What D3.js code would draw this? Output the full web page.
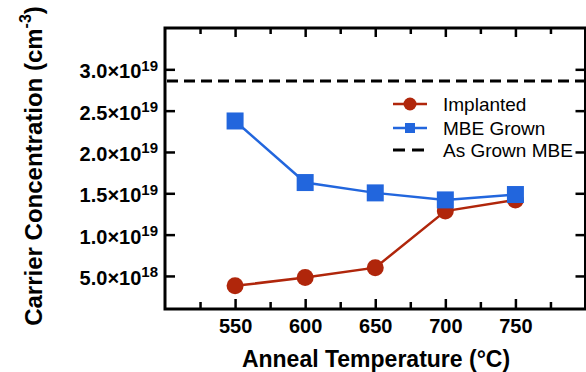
<!DOCTYPE html>
<html>
<head>
<meta charset="utf-8">
<script src="https://cdn.jsdelivr.net/npm/d3@7"></script>
<style>
    body { margin: 0; background: #fff; }
    text { font-family: "Liberation Sans", Arial, Helvetica, sans-serif; }
</style>
</head>
<body>
<div id="chart"></div>
<script>
var temps = [550, 600, 650, 700, 750];
var implanted = [3.8e18, 4.8e18, 6.0e18, 12.85e18, 14.2e18];
var mbeGrown = [23.75e18, 16.3e18, 15.05e18, 14.2e18, 14.85e18];
var asGrownMBE = 2.86e19;

var xMajorTicks = [550, 600, 650, 700, 750];
var xMinorTicks = [525, 575, 625, 675, 725, 775];
var yTicks = [5e18, 1e19, 1.5e19, 2e19, 2.5e19, 3e19];
var yTickMantissa = ["5.0", "1.0", "1.5", "2.0", "2.5", "3.0"];
var yTickExponent = ["18", "19", "19", "19", "19", "19"];
var legendLabels = ["Implanted", "MBE Grown", "As Grown MBE"];

var red = "#b0260b",
    blue = "#2266dd";

var svg = d3.select("#chart")
    .append("svg")
    .attr("width", 586)
    .attr("height", 372);

// note: "top" is taken by window.top, so use plot* names
var plotLeft = 165, plotRight = 585.5, plotTop = 28, plotBottom = 309;

var x = d3.scaleLinear()
    .domain([500, 800])
    .range([plotLeft, plotRight]);

var y = d3.scaleLinear()
    .domain([1e18, 3.5e19])
    .range([plotBottom, plotTop]);

function styleAxis(g) {
    g.select(".domain").remove();
    g.selectAll(".tick line")
        .attr("stroke", "#000")
        .attr("stroke-width", 2.5);
}

////////// axes //////////

svg.append("g")
    .attr("transform", "translate(0," + plotBottom + ")")
    .call(d3.axisBottom(x).tickValues(xMajorTicks).tickSize(-10).tickPadding(10))
    .call(styleAxis)
    .selectAll("text")
    .attr("font-size", 20)
    .attr("font-weight", "bold")
    .attr("fill", "#000");

svg.append("g")
    .attr("transform", "translate(0," + plotBottom + ")")
    .call(d3.axisBottom(x).tickValues(xMinorTicks).tickSize(-7).tickFormat(""))
    .call(styleAxis);

svg.append("g")
    .attr("transform", "translate(0," + plotTop + ")")
    .call(d3.axisTop(x).tickValues(xMajorTicks).tickSize(-9).tickFormat(""))
    .call(styleAxis);

svg.append("g")
    .attr("transform", "translate(0," + plotTop + ")")
    .call(d3.axisTop(x).tickValues(xMinorTicks).tickSize(-6).tickFormat(""))
    .call(styleAxis);

var yAxis = svg.append("g")
    .attr("transform", "translate(" + plotLeft + ",0)")
    .call(d3.axisLeft(y).tickValues(yTicks).tickSize(-10).tickPadding(7))
    .call(styleAxis);

yAxis.selectAll("text")
    .attr("fill", "#000")
    .attr("font-weight", "bold")
    .attr("font-size", 20)
    .attr("dy", "0.42em")
    .text(null)
    .each(function (d, i) {
        var t = d3.select(this);
        t.append("tspan").text(yTickMantissa[i] + "×10");
        t.append("tspan")
            .attr("font-size", 15)
            .attr("dy", "-0.5em")
            .text(yTickExponent[i]);
    });

svg.append("g")
    .attr("transform", "translate(" + plotRight + ",0)")
    .call(d3.axisRight(y).tickValues(yTicks).tickSize(-10).tickFormat(""))
    .call(styleAxis);

// frame
svg.append("rect")
    .attr("x", plotLeft)
    .attr("y", plotTop)
    .attr("width", plotRight - plotLeft)
    .attr("height", plotBottom - plotTop)
    .attr("fill", "none")
    .attr("stroke", "#000")
    .attr("stroke-width", 3);

////////// data //////////

svg.append("line")
    .attr("x1", plotLeft + 2)
    .attr("x2", plotRight)
    .attr("y1", y(asGrownMBE))
    .attr("y2", y(asGrownMBE))
    .attr("stroke", "#000")
    .attr("stroke-width", 3)
    .attr("stroke-dasharray", "11,6");

var line = d3.line()
    .x(function (d, i) { return x(temps[i]); })
    .y(function (d) { return y(d); });

svg.append("path")
    .datum(implanted)
    .attr("d", line)
    .attr("fill", "none")
    .attr("stroke", red)
    .attr("stroke-width", 2.5);

svg.selectAll(".implanted")
    .data(implanted)
    .enter().append("circle")
    .attr("class", "implanted")
    .attr("cx", function (d, i) { return x(temps[i]); })
    .attr("cy", function (d) { return y(d); })
    .attr("r", 8.5)
    .attr("fill", red);

svg.append("path")
    .datum(mbeGrown)
    .attr("d", line)
    .attr("fill", "none")
    .attr("stroke", blue)
    .attr("stroke-width", 2.5);

svg.selectAll(".mbe")
    .data(mbeGrown)
    .enter().append("rect")
    .attr("class", "mbe")
    .attr("x", function (d, i) { return x(temps[i]) - 8.5; })
    .attr("y", function (d) { return y(d) - 8.5; })
    .attr("width", 17)
    .attr("height", 17)
    .attr("fill", blue);

////////// legend //////////

var legend = svg.append("g").attr("transform", "translate(393,0)");
var rows = [104, 128, 150];

legend.append("line")
    .attr("x1", 0).attr("x2", 34)
    .attr("y1", rows[0]).attr("y2", rows[0])
    .attr("stroke", red).attr("stroke-width", 2.5);
legend.append("circle")
    .attr("cx", 17).attr("cy", rows[0]).attr("r", 6.5)
    .attr("fill", red);

legend.append("line")
    .attr("x1", 0).attr("x2", 34)
    .attr("y1", rows[1]).attr("y2", rows[1])
    .attr("stroke", blue).attr("stroke-width", 2.5);
legend.append("rect")
    .attr("x", 12).attr("y", rows[1] - 5).attr("width", 10).attr("height", 10)
    .attr("fill", blue);

legend.append("line")
    .attr("x1", 0).attr("x2", 34)
    .attr("y1", rows[2]).attr("y2", rows[2])
    .attr("stroke", "#000").attr("stroke-width", 3)
    .attr("stroke-dasharray", "12,7");

legend.selectAll(".legend-label")
    .data(legendLabels)
    .enter().append("text")
    .attr("class", "legend-label")
    .attr("x", 50)
    .attr("y", function (d, i) { return rows[i]; })
    .attr("dy", "0.35em")
    .attr("font-size", 19)
    .text(function (d) { return d; });

////////// titles //////////

svg.append("text")
    .attr("x", 376)
    .attr("y", 367)
    .attr("text-anchor", "middle")
    .attr("font-size", 23)
    .attr("font-weight", "bold")
    .text("Anneal Temperature (°C)");

var yTitle = svg.append("text")
    .attr("transform", "translate(42,166) rotate(-90)")
    .attr("text-anchor", "middle")
    .attr("font-size", 24)
    .attr("font-weight", "bold");
yTitle.append("tspan").text("Carrier Concentration (cm");
yTitle.append("tspan").attr("font-size", 16).attr("dy", "-0.7em").text("-3");
yTitle.append("tspan").attr("dy", "0.45em").text(")");
</script>
</body>
</html>
